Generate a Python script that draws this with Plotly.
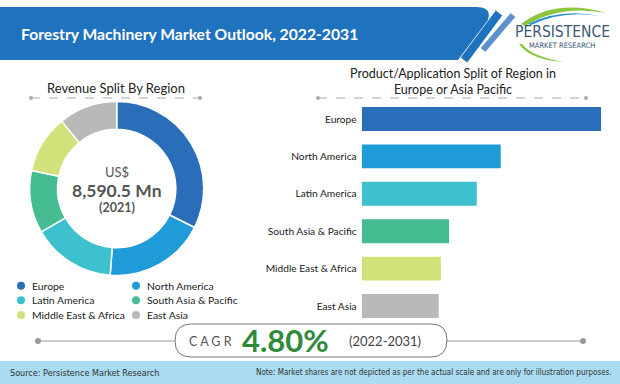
import plotly.graph_objects as go

W, H = 620, 384

# ---- data ----
regions = ["Europe", "North America", "Latin America", "South Asia & Pacific",
           "Middle East & Africa", "East Asia"]
donut_share = [32.4, 18.8, 15.5, 11.6, 10.8, 10.9]
bar_values = [100, 58.1, 48.1, 36.5, 33.1, 32.2]
colors = ["#2a6db8", "#1f9bd7", "#3ec1cf", "#45bd90", "#d3e17b", "#b9b9b9"]

title = "Forestry Machinery Market Outlook, 2022-2031"
donut_title = "Revenue Split By Region"
bar_title = "Product/Application Split of Region in<br>Europe or Asia Pacific"
total_label = ["US$", "8,590.5 Mn", "(2021)"]
cagr_value = "4.80%"
cagr_period = "(2022-2031)"
source_txt = "Source: Persistence Market Research"
note_txt = "Note: Market shares are not depicted as per the actual scale and are only for illustration purposes."

FONT = "Lato, 'Open Sans', sans-serif"
COND = "'DejaVu Sans Condensed', 'Liberation Sans Narrow', Roboto, sans-serif"


def px(x):
    return x / W


def py(y):
    return 1 - y / H


fig = go.Figure()

# donut
cx, cy, r = 116.7, 188.5, 87
fig.add_trace(go.Pie(
    labels=regions, values=donut_share, hole=0.68, sort=False,
    direction="clockwise", rotation=0,
    marker=dict(colors=colors, line=dict(color="white", width=1.5)),
    textinfo="none", showlegend=False, hoverinfo="label+percent",
    domain=dict(x=[px(cx - r), px(cx + r)], y=[py(cy + r), py(cy - r)]),
))

# bars
fig.add_trace(go.Bar(
    x=bar_values, y=regions, orientation="h",
    marker=dict(color=colors, line=dict(width=0)),
    showlegend=False, xaxis="x", yaxis="y",
))

bar_top, bar_bottom = 100.3, 324.7
fig.update_layout(
    width=W, height=H, margin=dict(l=0, r=0, t=0, b=0),
    paper_bgcolor="white", plot_bgcolor="rgba(0,0,0,0)",
    font=dict(family=FONT, color="#222"),
    bargap=0.36,
    xaxis=dict(domain=[px(361.7), px(601)], range=[0, bar_values[0]],
               visible=False, fixedrange=True),
    yaxis=dict(domain=[py(bar_bottom), py(bar_top)],
               categoryorder="array", categoryarray=regions[::-1],
               showgrid=False, zeroline=False, showline=False, ticks="",
               ticklabelstandoff=4,
               tickfont=dict(size=10.2, color="#1a1a1a", family=FONT)),
)

shapes = []
annotations = []

# title bar
shapes.append(dict(type="path", xref="paper", yref="paper", layer="below",
                   path=f"M {px(0)},{py(7)} L {px(476)},{py(7)} Q {px(492)},{py(7)} {px(488)},{py(20)} "
                        f"L {px(458)},{py(60)} L {px(0)},{py(60)} Z",
                   fillcolor="#1f72bd", line=dict(width=0)))
# stripes
shapes.append(dict(type="line", xref="paper", yref="paper",
                   x0=px(464), y0=py(60), x1=px(499), y1=py(13),
                   line=dict(color="#1f72bd", width=8)))
shapes.append(dict(type="line", xref="paper", yref="paper",
                   x0=px(483), y0=py(50), x1=px(513), y1=py(15),
                   line=dict(color="#5b92cc", width=6)))
# logo swoosh
shapes.append(dict(type="path", xref="paper", yref="paper",
                   path=f"M {px(521)},{py(24)} Q {px(555)},{py(-2)} {px(606)},{py(13)} "
                        f"Q {px(560)},{py(4)} {px(525)},{py(26)} Z",
                   fillcolor="#8cc63f", line=dict(width=0)))
shapes.append(dict(type="path", xref="paper", yref="paper",
                   path=f"M {px(528)},{py(24)} Q {px(560)},{py(8)} {px(600)},{py(16)} "
                        f"Q {px(562)},{py(10)} {px(531)},{py(25)} Z",
                   fillcolor="#2a8fd0", line=dict(width=0)))
shapes.append(dict(type="path", xref="paper", yref="paper",
                   path=f"M {px(519)},{py(44)} Q {px(530)},{py(60)} {px(565)},{py(62)} "
                        f"Q {px(532)},{py(57)} {px(522)},{py(44)} Z",
                   fillcolor="#8cc63f", line=dict(width=0)))
annotations.append(dict(text="PERSISTENCE", x=px(562), y=py(32), xref="paper", yref="paper",
                        showarrow=False, xanchor="center", yanchor="middle",
                        font=dict(family=COND, size=15.5, color="#3a5775")))
annotations.append(dict(text="MARKET RESEARCH", x=px(562), y=py(46), xref="paper", yref="paper",
                        showarrow=False, xanchor="center", yanchor="middle",
                        font=dict(family=COND, size=7.5, color="#3a5775")))
annotations.append(dict(text=f"<b>{title}</b>", x=px(19), y=py(33.5), xref="paper", yref="paper",
                        showarrow=False, xanchor="left", yanchor="middle",
                        font=dict(family=FONT, size=15.7, color="white")))

# section titles & dashed separators
annotations.append(dict(text=donut_title, x=px(116), y=py(88), xref="paper", yref="paper",
                        showarrow=False, xanchor="center", yanchor="middle",
                        font=dict(size=13, color="#222")))
annotations.append(dict(text=bar_title, x=px(453), y=py(82), xref="paper", yref="paper",
                        showarrow=False, xanchor="center", yanchor="middle",
                        font=dict(size=12.5, color="#222")))
for (x0, x1) in [(31, 200), (318, 586)]:
    shapes.append(dict(type="line", xref="paper", yref="paper",
                       x0=px(x0), x1=px(x1), y0=py(98), y1=py(98),
                       line=dict(color="#aaa", width=1, dash="dash")))
    for xx in (x0, x1):
        shapes.append(dict(type="circle", xref="paper", yref="paper",
                           x0=px(xx - 2), x1=px(xx + 2), y0=py(100), y1=py(96),
                           fillcolor="#aaa", line=dict(width=0)))

# donut center text
annotations.append(dict(text=total_label[0], x=px(cx), y=py(172), xref="paper", yref="paper",
                        showarrow=False, xanchor="center", yanchor="middle",
                        font=dict(size=13, color="#555")))
annotations.append(dict(text=f"<b>{total_label[1]}</b>", x=px(cx), y=py(190.5), xref="paper", yref="paper",
                        showarrow=False, xanchor="center", yanchor="middle",
                        font=dict(size=17.5, color="#555")))
annotations.append(dict(text=f"<b>{total_label[2]}</b>", x=px(cx), y=py(207), xref="paper", yref="paper",
                        showarrow=False, xanchor="center", yanchor="middle",
                        font=dict(size=12.5, color="#555")))

# custom legend (2 columns)
leg_x = [21, 136]
leg_y = [285.7, 300.3, 315]
for i, (name, col) in enumerate(zip(regions, colors)):
    lx = leg_x[i % 2]
    ly = leg_y[i // 2]
    shapes.append(dict(type="circle", xref="paper", yref="paper",
                       x0=px(lx - 4), x1=px(lx + 4), y0=py(ly + 4), y1=py(ly - 4),
                       fillcolor=col, line=dict(width=0)))
    annotations.append(dict(text=name, x=px(lx + 9), y=py(ly), xref="paper", yref="paper",
                            showarrow=False, xanchor="left", yanchor="middle",
                            font=dict(size=10.4, color="#1a1a1a")))

# CAGR banner
shapes.append(dict(type="line", xref="paper", yref="paper",
                   x0=px(38), x1=px(583), y0=py(341), y1=py(341),
                   line=dict(color="#999", width=1)))
for xx in (38, 583):
    shapes.append(dict(type="circle", xref="paper", yref="paper",
                       x0=px(xx - 3), x1=px(xx + 3), y0=py(344), y1=py(338),
                       fillcolor="#999", line=dict(width=0)))
rr = 16
x0p, x1p, y0p, y1p = 175, 447, 324, 357
shapes.append(dict(type="path", xref="paper", yref="paper",
                   path=(f"M {px(x0p + rr)},{py(y0p)} L {px(x1p - rr)},{py(y0p)} "
                         f"Q {px(x1p)},{py(y0p)} {px(x1p)},{py(y0p + rr)} "
                         f"Q {px(x1p)},{py(y1p)} {px(x1p - rr)},{py(y1p)} "
                         f"L {px(x0p + rr)},{py(y1p)} "
                         f"Q {px(x0p)},{py(y1p)} {px(x0p)},{py(y1p - rr)} "
                         f"Q {px(x0p)},{py(y0p)} {px(x0p + rr)},{py(y0p)} Z"),
                   fillcolor="white", line=dict(color="#777", width=1)))
annotations.append(dict(text="C A G R", x=px(187), y=py(341), xref="paper", yref="paper",
                        showarrow=False, xanchor="left", yanchor="middle",
                        font=dict(size=12.5, color="#555")))
annotations.append(dict(text=f"<b>{cagr_value}</b>", x=px(285), y=py(340), xref="paper", yref="paper",
                        showarrow=False, xanchor="center", yanchor="middle",
                        font=dict(size=31, color="#2f8a3c")))
annotations.append(dict(text=cagr_period, x=px(385), y=py(341), xref="paper", yref="paper",
                        showarrow=False, xanchor="center", yanchor="middle",
                        font=dict(size=13, color="#444")))

# footer
shapes.append(dict(type="rect", xref="paper", yref="paper", layer="below",
                   x0=0, x1=1, y0=py(384), y1=py(361),
                   fillcolor="#a9dbf1", line=dict(width=0)))
annotations.append(dict(text=source_txt, x=px(8), y=py(372.5), xref="paper", yref="paper",
                        showarrow=False, xanchor="left", yanchor="middle",
                        font=dict(family=COND, size=9, color="#333")))
annotations.append(dict(text=note_txt, x=px(614), y=py(372.5), xref="paper", yref="paper",
                        showarrow=False, xanchor="right", yanchor="middle",
                        font=dict(family=COND, size=8, color="#333")))

fig.update_layout(shapes=shapes, annotations=annotations)
fig.write_html("out.html", config={"displayModeBar": False},
               post_script="document.body.style.margin='0';document.body.style.overflow='hidden';")
